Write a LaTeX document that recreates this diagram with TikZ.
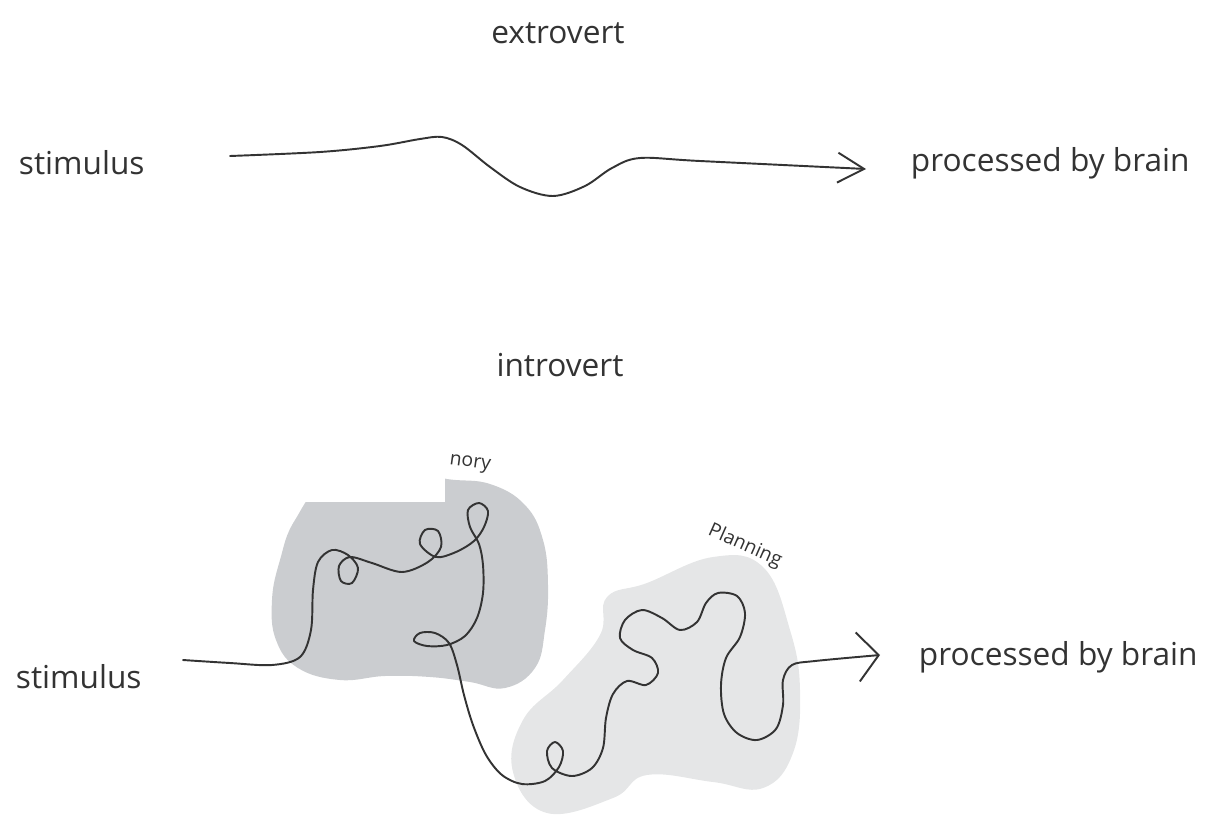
\documentclass[tikz,border=0pt]{standalone}
\usepackage{fontspec}
\setmainfont{Open Sans}
\usetikzlibrary{arrows.meta}
\definecolor{cink}{HTML}{333333}
\definecolor{cmemory}{HTML}{CBCDD0}
\definecolor{cplan}{HTML}{E5E6E7}
\tikzset{
  every picture/.style={line width=1.1pt},
  label/.style={text=cink, font=\fontsize{18}{20}\selectfont, inner sep=0pt},
  small/.style={text=cink, font=\fontsize{11}{13}\selectfont, inner sep=0pt},
  wire/.style={draw=cink, line width=1.1pt, line cap=round, line join=round},
}
\begin{document}
\begin{tikzpicture}[x=0.02cm, y=-0.02cm]
  \useasboundingbox (0,0) rectangle (1217,815);
  % extrovert
  \node[label] (ext) at (558,33) {extrovert};
  \node[label, anchor=west] (stim1) at (18,163) {stimulus};
  \node[label, anchor=west] (brain1) at (910,163) {processed by brain};
  \coordinate (in1) at (230,156);
  \coordinate (out1) at (866,169);
  \draw[wire, -{Straight Barb[length=15pt, width=17pt]}] plot[smooth, tension=0.55] coordinates {(in1) (320,152) (380,146) (420,139) (442,137) (462,145) (490,167) (520,187) (553,196) (585,186) (612,168) (640,158) (700,161) (out1)};

  % introvert
  \node[label] (int) at (560,365) {introvert};
  \node[label, anchor=west] (stim2) at (15,677) {stimulus};
  \node[label, anchor=west] (brain2) at (918,657) {processed by brain};
  % memory area, top left corner cut away
  \fill[cmemory] plot[smooth cycle, tension=0.7] coordinates {(447,479) (490,484) (525,505) (543,540) (548,585) (545,630) (535,668) (505,688) (470,682) (430,677) (385,676) (340,680) (298,668) (276,640) (272,600) (280,560) (295,520) (330,480) (400,470)};
  \fill[white] (300,420) rectangle (445,502);
  \node[small, rotate=-8] (mem) at (470,464) {nory};
  % planning area
  \fill[cplan] plot[smooth cycle, tension=0.7] coordinates {(607,597) (647,583) (713,557) (763,567) (790,630) (800,690) (793,753) (763,788) (713,782) (647,775) (613,798) (547,813) (513,772) (523,720) (563,680) (600,635)};
  \node[small, rotate=-24] (plan) at (745,546) {Planning};
  \coordinate (in2) at (183,660);
  \coordinate (out2) at (880,655);
  \draw[wire, -{Straight Barb[length=12pt, width=28pt]}] plot[smooth, tension=0.55] coordinates {(in2) (230,663) (272,665) (300,657) (311,630) (313,590) (318,562) (332,550) (348,555) (358,568) (352,583) (341,581) (339,566) (350,557) (372,563) (402,572) (428,562) (441,547) (438,531) (425,530) (420,544) (436,557) (456,552) (474,541) (484,527) (488,511) (479,503) (468,510) (470,527) (479,544) (483,565) (483,593) (477,618) (465,636) (447,645) (427,646) (414,641) (420,633) (435,633) (449,643) (457,665) (464,695) (473,725) (486,755) (502,775) (522,784) (545,781) (559,767) (563,751) (555,742) (547,751) (552,768) (572,776) (592,768) (603,748) (606,718) (613,694) (627,681) (646,685) (658,673) (652,658) (633,650) (620,638) (625,620) (642,610) (662,618) (680,630) (697,622) (706,603) (718,593) (737,596) (745,613) (740,637) (726,658) (721,685) (724,714) (737,733) (757,740) (776,729) (783,705) (783,680) (792,665) (815,661) (out2)};
\end{tikzpicture}
\end{document}
